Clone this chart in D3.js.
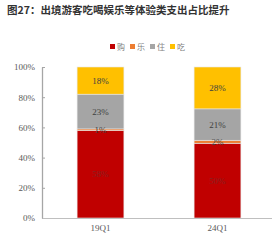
<!DOCTYPE html>
<html>
<head>
<meta charset="utf-8">
<script src="https://cdn.jsdelivr.net/npm/d3@7"></script>
<style>
  body { margin: 0; background: #fff; }
  svg { display: block; }
</style>
</head>
<body>
<div id="chart"></div>
<script>
// data
var categories = ["19Q1", "24Q1"]
var seriesNames = ["购", "乐", "住", "吃"]
var seriesColors = ["#C00000", "#ED7D31", "#A5A5A5", "#FFC000"]
var shop = [58, 50]
var fun = [1, 2]
var stay = [23, 21]
var eat = [18, 28]
var yTicks = [0, 0.2, 0.4, 0.6, 0.8, 1]

var width = 272
var height = 241
var plotLeft = 42, plotRight = 276, plotTop = 67, plotBottom = 218

var rows = categories.map(function(c, i) {
  return { cat: c, "购": shop[i], "乐": fun[i], "住": stay[i], "吃": eat[i] }
})

// stack normalised to 100% (24Q1 sums to 101 because of rounding)
var stacked = d3.stack()
  .keys(seriesNames)
  .offset(d3.stackOffsetExpand)(rows)

var svg = d3.select("#chart").append("svg")
  .attr("width", width)
  .attr("height", height)

var xScale = d3.scaleBand()
  .domain(categories)
  .range([plotLeft, plotRight])
  .paddingInner(0.6)
  .paddingOuter(0.3)

var yScale = d3.scaleLinear()
  .domain([0, 1])
  .range([plotBottom, plotTop])

var color = d3.scaleOrdinal().domain(seriesNames).range(seriesColors)

//title
svg.append("text")
  .attr("x", 7)
  .attr("y", 14)
  .style("font-family", "'Noto Sans CJK SC', sans-serif")
  .style("font-size", "10.5px")
  .style("font-weight", "bold")
  .style("fill", "#333")
  .text("图27：出境游客吃喝娱乐等体验类支出占比提升")

//bars
var groups = svg.selectAll(".series")
  .data(stacked)
  .enter()
  .append("g")
  .attr("class", "series")
  .style("fill", function(d) { return color(d.key) })

groups.selectAll("rect")
  .data(function(d) { return d })
  .enter()
  .append("rect")
  .attr("x", function(d) { return xScale(d.data.cat) })
  .attr("width", xScale.bandwidth())
  .attr("y", function(d) { return yScale(d[1]) })
  .attr("height", function(d) { return yScale(d[0]) - yScale(d[1]) })
  .style("stroke", "#e6e6e6")
  .style("stroke-width", 0.6)

// value labels centred in each segment
stacked.forEach(function(s) {
  svg.selectAll(".lbl-" + s.index)
    .data(s)
    .enter()
    .append("text")
    .attr("class", "lbl-" + s.index)
    .attr("x", function(d) { return xScale(d.data.cat) + xScale.bandwidth() / 2 })
    .attr("y", function(d) { return (yScale(d[0]) + yScale(d[1])) / 2 + 3 })
    .attr("text-anchor", "middle")
    .style("font-family", "'Liberation Serif', serif")
    .style("font-size", "9px")
    .style("fill", s.key == "购" ? "#8a2020" : "#404040")
    .text(function(d) { return d.data[s.key] + "%" })
})

//axes
var yAxis = d3.axisLeft(yScale)
  .tickValues(yTicks)
  .tickFormat(d3.format(".0%"))
  .tickSizeInner(-3)
  .tickSizeOuter(0)
  .tickPadding(7)
var y = svg.append("g")
  .attr("transform", "translate(" + plotLeft + ",0)")
  .call(yAxis)
y.select(".domain").style("stroke", "#a6a6a6").style("stroke-width", 1.3)
y.selectAll(".tick line").style("stroke", "#a6a6a6")
y.selectAll("text")
  .style("font-family", "'Liberation Serif', serif")
  .style("font-size", "9px")
  .style("fill", "#595959")

var xAxis = d3.axisBottom(xScale)
  .tickSize(0)
  .tickPadding(7)
var x = svg.append("g")
  .attr("transform", "translate(0," + plotBottom + ")")
  .call(xAxis)
x.select(".domain").style("stroke", "#bfbfbf").style("stroke-width", 1)
x.selectAll("text")
  .style("font-family", "'Liberation Serif', serif")
  .style("font-size", "9px")
  .style("fill", "#595959")

//legend
var legendX = [110, 130, 150, 170]
var legend = svg.selectAll(".legend")
  .data(seriesNames)
  .enter()
  .append("g")
  .attr("class", "legend")
  .attr("transform", function(d, i) { return "translate(" + legendX[i] + ",47)" })
legend.append("rect")
  .attr("x", 0)
  .attr("y", -3)
  .attr("width", 5)
  .attr("height", 5)
  .style("fill", function(d) { return color(d) })
legend.append("text")
  .attr("x", 7)
  .attr("y", 3)
  .style("font-family", "'Noto Sans CJK SC', sans-serif")
  .style("font-size", "8px")
  .style("fill", "#7f7f7f")
  .text(function(d) { return d })
</script>
</body>
</html>
